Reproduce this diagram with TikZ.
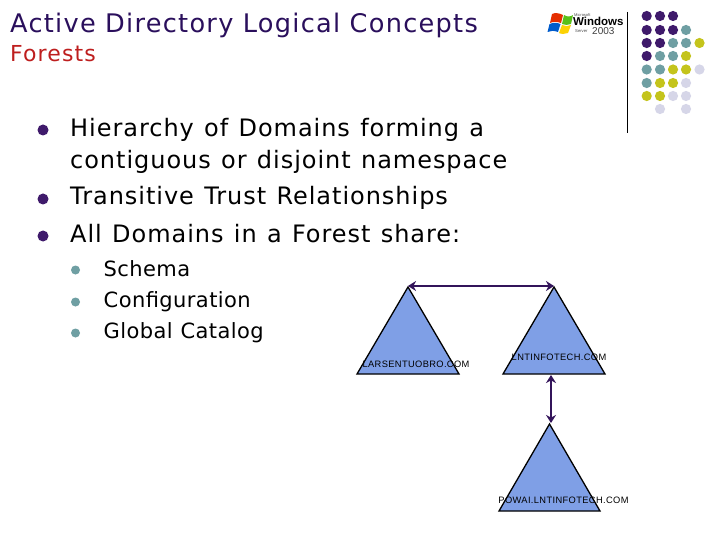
\documentclass[tikz,border=0pt]{standalone}
\usepackage{fontspec}
\setmainfont{DejaVu Sans}
\newfontfamily\ftitle{DejaVu Sans}[LetterSpace=5,WordSpace=1.7]
\newfontfamily\fsub{DejaVu Sans}[LetterSpace=5]
\newfontfamily\fbody{DejaVu Sans}[LetterSpace=4,WordSpace=1.2]
\newfontfamily\fsmall{DejaVu Sans}[LetterSpace=2,WordSpace=1.1]
\newfontfamily\lab{Liberation Sans}[LetterSpace=4]
\newfontfamily\win{Liberation Sans}
\usetikzlibrary{arrows.meta}
\definecolor{pur}{HTML}{3F1A6B}
\definecolor{ttl}{HTML}{2A0F5C}
\definecolor{subred}{HTML}{BE1E1E}
\definecolor{teal}{HTML}{6F9FA3}
\definecolor{yel}{HTML}{C4C41C}
\definecolor{lav}{HTML}{D6D6E8}
\definecolor{tri}{HTML}{7F9FE6}
\definecolor{arr}{HTML}{33145A}
\tikzset{
 txt/.style={anchor=base west,inner sep=0pt,text=black},
 h1/.style={txt,text=ttl,font=\fontsize{25.6}{30}\ftitle},
 h2/.style={txt,text=subred,font=\fontsize{22}{26}\fsub},
 b1/.style={txt,font=\fontsize{24}{29}\fbody},
 b2/.style={txt,font=\fontsize{21}{25}\fsmall},
 dtri/.style={draw=black,line width=1.3pt,fill=tri,line join=miter},
 tl/.style={inner sep=0pt,text=black,font=\fontsize{9.3}{11}\lab},
 link/.style={draw=arr,line width=2.8pt,{Stealth[length=8pt,width=10pt]}-{Stealth[length=8pt,width=10pt]}},
 wt/.style={anchor=base west,inner sep=0pt},
}
\newcommand{\dotat}[3]{\fill[#3] (#1,#2) circle (5.1);}
\begin{document}
\begin{tikzpicture}[x=1pt,y=-1pt]
\useasboundingbox (0,0) rectangle (720,540);
\fill[white] (0,0) rectangle (720,540);
\node[h1] (title) at (10,32.5) {Active Directory Logical Concepts};
\node[h2] (sub) at (10,62) {Forests};
\node[b1] (a1) at (70,136.5) {Hierarchy of Domains forming a};
\node[b1] (a2) at (70,168.5) {contiguous or disjoint namespace};
\node[b1] (a3) at (70,205) {Transitive Trust Relationships};
\node[b1] (a4) at (70,242.5) {All Domains in a Forest share:};
\node[b2] (c1) at (103.5,276) {Schema};
\node[b2] (c2) at (103.5,307.5) {Configuration};
\node[b2] (c3) at (103.5,338.5) {Global Catalog};
\foreach \y in {130,199,236}{\fill[pur] (43,\y) circle (5.5);}
\foreach \y in {270,302,333}{\fill[teal] (75.5,\y) circle (4.5);}
% logo
\fill[red!60!orange!90!black] (552,14) .. controls (555,12.5) and (559,13) .. (563,15) -- (561,23) .. controls (557,21.5) and (553,21.5) .. (550,23) -- cycle;
\fill[green!45!olive!90!white] (564,15) .. controls (567,17) and (570,17) .. (573,15) -- (571,24) .. controls (568,25.5) and (565,25) .. (562,24) -- cycle;
\fill[blue!55!cyan!80!black] (549.5,24) .. controls (553,22.5) and (557,22.5) .. (560.5,24) -- (558,32) .. controls (554,30.5) and (550.5,30.5) .. (547.5,32) -- cycle;
\fill[yellow!70!orange] (562,25) .. controls (565,26.5) and (568,26.5) .. (571,25) -- (568,33) .. controls (565,34.5) and (561,34) .. (559,33) -- cycle;
\node[wt,font=\fontsize{4}{4}\win,text=black!70] (ms) at (574,16.5) {Microsoft};
\node[wt,font=\bfseries\fontsize{11.5}{12}\win,text=black] (wn) at (573,25.5) {Windows};
\node[wt,font=\fontsize{4.2}{4}\win,text=black!70] (sv) at (575,33) {Server};
\node[wt,font=\fontsize{10}{10}\win,text=black!75] (yr) at (592,34.5) {2003};
\draw[black,line width=1pt] (627,12) -- (627,133);
% dots
\foreach \x/\y/\c in {646.7/16/pur,660/16/pur,673/16/pur,
 646.7/30/pur,660/30/pur,673/30/pur,686/30/teal,
 646.7/43/pur,660/43/pur,673/43/teal,686/43/teal,699.5/43/yel,
 646.7/56/pur,660/56/teal,673/56/teal,686/56/yel,
 646.7/69.5/teal,660/69.5/teal,673/69.5/yel,686/69.5/yel,699.5/69.5/lav,
 646.7/83/teal,660/83/yel,673/83/yel,686/83/lav,
 646.7/96/yel,660/96/yel,673/96/lav,686/96/lav,
 660/109/lav,686/109/lav}{\dotat{\x}{\y}{\c}}
% triangles
\coordinate (lA) at (408,287); \coordinate (rA) at (554,287); \coordinate (bA) at (549.5,424);
\coordinate (rB) at (551,375); \coordinate (lE) at (408,286); \coordinate (rE) at (554,286); \coordinate (bE) at (551,423);
\draw[dtri] (lA) -- (459,374) -- (357,374) -- cycle;
\draw[dtri] (rA) -- (605,374) -- (503,374) -- cycle;
\draw[dtri] (bA) -- (600,511) -- (499,511) -- cycle;
\node[tl] (t1) at (416,364) {LARSENTUOBRO.COM};
\node[tl] (t2) at (559,357) {LNTINFOTECH.COM};
\node[tl] (t3) at (563.5,500) {POWAI.LNTINFOTECH.COM};
\draw[link] (lE) -- (rE);
\draw[link] (rB) -- (bE);
\end{tikzpicture}
\end{document}
